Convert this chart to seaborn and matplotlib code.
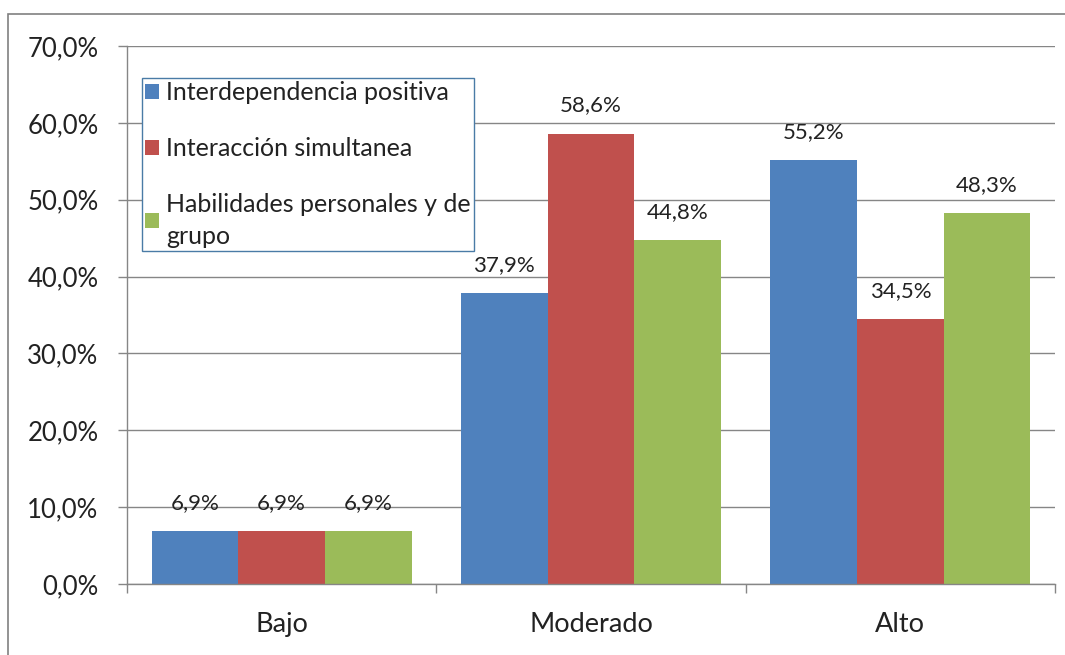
import matplotlib
matplotlib.use("Agg")
import matplotlib.pyplot as plt
import seaborn as sns
import pandas as pd
from matplotlib.patches import Rectangle, Patch

categories = ["Bajo", "Moderado", "Alto"]
series = ["Interdependencia positiva", "Interacción simultanea", "Habilidades personales y de grupo"]
interdependencia = [6.9, 37.9, 55.2]
interaccion = [6.9, 58.6, 34.5]
habilidades = [6.9, 44.8, 48.3]
colors = ["#4F81BD", "#C0504D", "#9BBB59"]
yticks = [0, 10, 20, 30, 40, 50, 60, 70]

rows = []
for s, vals in zip(series, [interdependencia, interaccion, habilidades]):
    for c, v in zip(categories, vals):
        rows.append({"cat": c, "serie": s, "val": v})
df = pd.DataFrame(rows)

sns.set_theme(style="white")
plt.rcParams["font.family"] = ["Lato", "DejaVu Sans"]

fig = plt.figure(figsize=(10.65, 6.55), dpi=100)
ax = fig.add_axes([127/1065, 1-584/655, 928/1065, 538/655])

sns.barplot(data=df, x="cat", y="val", hue="serie", order=categories, hue_order=series,
            palette=colors, width=0.84, gap=0, ax=ax, legend=False, saturation=1,
            linewidth=0)

for cont in ax.containers:
    ax.bar_label(cont, labels=[f"{b.get_height():.1f}%".replace(".", ",") for b in cont],
                 padding=13, fontsize=16, color="#222222")

ax.set_ylim(0, 70)
ax.set_xlim(-0.5, 2.5)
ax.set_yticks(yticks)
ax.set_yticklabels([f"{v:.1f}%".replace(".", ",") for v in yticks], fontsize=18.5, color="#222222")
ax.tick_params(axis="y", which="major", length=6.5, color="#868686", width=1, pad=14, left=True)
ax.set_xticks(range(3))
ax.set_xticklabels(categories, fontsize=19.5, color="#222222")
ax.set_xticks([-0.5, 0.5, 1.5, 2.5], minor=True)
ax.tick_params(axis="x", which="major", length=0, pad=20)
ax.tick_params(axis="x", which="minor", length=6.5, color="#868686", width=1, bottom=True)
ax.set_xlabel("")
ax.set_ylabel("")
ax.yaxis.grid(True, color="#868686", linewidth=1)
ax.set_axisbelow(True)
for side in ["top", "right"]:
    ax.spines[side].set_visible(False)
for side in ["left", "bottom"]:
    ax.spines[side].set_color("#868686")
    ax.spines[side].set_linewidth(1)

handles = [Patch(facecolor=c, edgecolor="none") for c in colors]
labels = ["Interdependencia positiva", "Interacción simultanea", "Habilidades personales y de\ngrupo"]
leg = ax.legend(handles, labels, loc="upper left", bbox_to_anchor=((142-127)/928, (584-78)/538),
                borderaxespad=0, fontsize=18, frameon=True, fancybox=False,
                handlelength=0.55, handleheight=0.55, handletextpad=0.3, labelspacing=1.32,
                borderpad=0.12, framealpha=1)
leg.get_frame().set_edgecolor("#4A7BA6")
leg.get_frame().set_linewidth(1)
for t in leg.get_texts():
    t.set_color("#222222")
    t.set_linespacing(1.45)

fig.patches.append(Rectangle((8/1065, -0.1), 1.2, 1-14/655+0.1, transform=fig.transFigure,
                             fill=False, edgecolor="#808080", linewidth=1.2))

fig.savefig("out.png", dpi=100)
